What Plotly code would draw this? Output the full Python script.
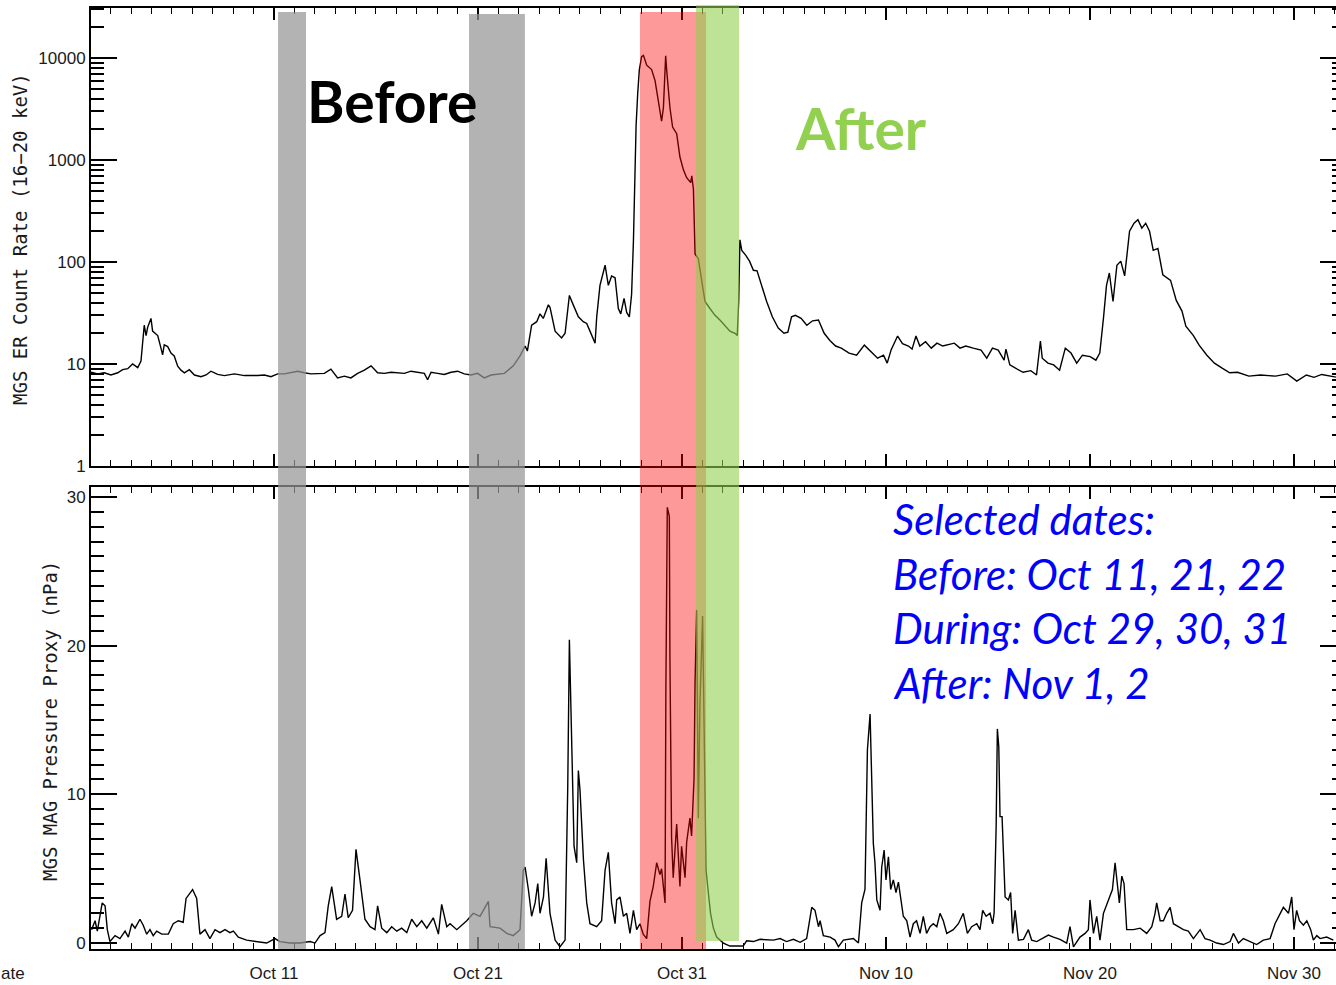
import pandas as pd
import plotly.graph_objects as go

# ---------------- data (time in "day of October 2003", e.g. 32.0 = Nov 1 00:00) ----------------
er_day = [2.03, 2.36, 2.68, 3.01, 3.34, 3.58, 3.83, 4.07, 4.32, 4.48, 4.64, 4.73, 4.81, 4.97, 5.05,
          5.30, 5.46, 5.54, 5.62, 5.79, 5.95, 6.11, 6.28, 6.44, 6.61, 6.85, 7.10, 7.42, 7.67, 7.91,
          8.24, 8.57, 9.06, 9.55, 10.2, 10.53, 10.85, 11.18, 11.51, 12.16, 12.49, 12.81, 13.47, 13.79,
          14.12, 14.45, 14.77, 15.1, 15.43, 15.76, 16.08, 16.41, 16.74, 17.39, 17.72, 18.04, 18.37,
          18.53, 18.7, 19.02, 19.35, 19.68, 20.0, 20.33, 20.66, 20.98, 21.31, 21.64, 21.96, 22.29,
          22.73, 23.06, 23.31, 23.42, 23.63, 23.88, 24.04, 24.2, 24.45, 24.53, 24.78, 25.1, 25.27,
          25.48, 25.67, 25.92, 26.16, 26.33, 26.49, 26.74, 26.82, 26.98, 27.23, 27.39, 27.55, 27.72,
          27.88, 28.0, 28.16, 28.29, 28.42, 28.53, 28.62, 28.68, 28.75, 28.83, 28.91, 29.02, 29.11,
          29.27, 29.51, 29.68, 29.84, 30.0, 30.09, 30.2, 30.25, 30.33, 30.41, 30.54, 30.74, 30.9,
          31.07, 31.23, 31.43, 31.48, 31.56, 31.64, 31.8, 31.97, 32.13, 32.37, 32.62, 32.86, 33.11,
          33.35, 33.6, 33.71, 33.78, 33.84, 33.93, 34.12, 34.31, 34.5, 34.68, 34.87, 35.15, 35.43,
          35.72, 36.0, 36.19, 36.37, 36.56, 36.84, 37.12, 37.4, 37.69, 37.97, 38.25, 38.53, 38.81,
          39.19, 39.56, 39.94, 40.22, 40.59, 40.88, 41.06, 41.25, 41.57, 41.81, 42.1, 42.28, 42.47,
          42.66, 42.94, 43.22, 43.5, 43.78, 44.07, 44.35, 44.63, 44.91, 45.28, 45.66, 45.94, 46.22,
          46.5, 46.79, 46.88, 47.07, 47.35, 47.72, 48.1, 48.38, 48.57, 48.66, 48.94, 49.22, 49.51,
          49.79, 50.07, 50.35, 50.63, 51.01, 51.29, 51.48, 51.66, 51.81, 51.95, 52.13, 52.32, 52.51,
          52.7, 52.94, 53.16, 53.35, 53.54, 53.73, 53.92, 54.1, 54.33, 54.57, 54.95, 55.23, 55.51,
          55.7, 56.07, 56.35, 56.73, 57.1, 57.48, 57.85, 58.23, 58.79, 59.36, 60.1, 60.67, 61.14,
          61.61, 61.98, 62.36, 62.92, 63.26]
er_rate = [8.3, 8.0, 8.2, 7.8, 8.2, 8.8, 9.0, 10.0, 9.2, 10.7, 24, 19, 23, 28, 21,
           19, 14.3, 12.3, 15.4, 14.8, 12.8, 12, 9.5, 8.7, 8.2, 8.8, 7.8, 7.5, 7.8, 8.5,
           7.9, 7.7, 8.0, 7.7, 7.7, 7.8, 7.5, 8.0, 8.0, 8.5, 8.2, 8.0, 8.1, 8.9,
           7.3, 7.6, 7.3, 8.1, 8.7, 9.6, 8.2, 8.1, 8.3, 8.1, 8.5, 8.3, 8.1,
           7.0, 8.3, 8.1, 7.9, 8.3, 8.5, 8.0, 7.8, 8.1, 7.3, 7.8, 8.0, 8.1,
           9.6, 12, 15, 13.4, 24, 26, 31, 28, 38, 36, 21, 18, 20,
           47, 38, 29, 26, 25, 21, 16, 29, 59, 93, 59, 73, 70,
           35, 31, 44, 32, 29, 48, 160, 630, 2150, 4500, 7700, 10300, 10600,
           8500, 7700, 6000, 3800, 2400, 3250, 10500, 7600, 5000, 3250, 2100, 1810, 1070,
           800, 670, 600, 700, 520, 120, 108, 65, 41, 35, 30, 27, 24,
           21, 20, 19, 41, 165, 130, 117, 102, 83, 82, 62, 41, 29,
           22.5, 20, 20.5, 29, 30, 28, 24, 26.5, 27, 20, 17, 15, 14.3,
           12.8, 12.2, 15.3, 13.5, 11.4, 12.2, 10.2, 13.7, 18.8, 15.8, 15, 14, 18.8,
           15, 16.5, 14.3, 16, 15, 15.5, 16, 14.3, 15, 14.3, 13.7, 11.4, 14.3,
           13.7, 10.9, 14, 9.8, 9.1, 8.3, 8.6, 7.8, 16.8, 11.4, 10.2, 9.8, 8.7,
           14.3, 12.8, 10.2, 12.2, 11.8, 10.9, 12.8, 28, 59, 78, 41, 93, 102,
           73, 200, 240, 260, 215, 240, 200, 130, 136, 75, 66, 42, 33,
           23.5, 19, 15.3, 12.2, 10.2, 9.1, 8.2, 8.3, 7.6, 7.8, 7.6, 8.0, 6.8,
           7.8, 7.4, 7.9, 7.6, 7.3]

mag_day = [2.06, 2.23, 2.34, 2.47, 2.58, 2.72, 2.83, 2.96, 3.21, 3.45, 3.7, 3.86, 4.03, 4.19, 4.43,
           4.59, 4.76, 4.92, 5.08, 5.25, 5.5, 5.82, 6.06, 6.31, 6.55, 6.69, 6.85, 7.01, 7.21, 7.37,
           7.62, 7.86, 8.11, 8.35, 8.6, 8.84, 9.01, 9.25, 9.66, 10.15, 10.64, 11.05, 11.29, 11.78,
           12.27, 12.77, 13.01, 13.26, 13.5, 13.66, 13.83, 14.07, 14.32, 14.48, 14.64, 14.85, 15.02,
           15.22, 15.46, 15.71, 15.95, 16.08, 16.28, 16.53, 16.77, 17.02, 17.26, 17.51, 17.75, 18.0,
           18.24, 18.49, 18.81, 19.06, 19.22, 19.47, 19.63, 19.96, 20.45, 20.77, 21.1, 21.51, 21.59,
           22.08, 22.41, 22.73, 23.06, 23.22, 23.31, 23.47, 23.63, 23.8, 23.93, 24.04, 24.21, 24.34,
           24.53, 24.78, 25.02, 25.27, 25.4, 25.48, 25.55, 25.61, 25.71, 25.84, 25.92, 26.0, 26.17,
           26.33, 26.49, 26.82, 27.06, 27.23, 27.39, 27.55, 27.72, 27.8, 27.96, 28.13, 28.29, 28.45,
           28.62, 28.78, 28.94, 29.1, 29.27, 29.43, 29.59, 29.76, 29.92, 30.0, 30.17, 30.21, 30.28,
           30.38, 30.41, 30.49, 30.57, 30.74, 30.9, 30.98, 31.15, 31.23, 31.39, 31.47, 31.59, 31.64,
           31.72, 31.8, 31.88, 32.01, 32.08, 32.18, 32.29, 32.4, 32.54, 32.7, 33.03, 33.35, 34.0,
           34.17, 34.5, 34.83, 35.48, 35.81, 36.13, 36.46, 36.79, 37.11, 37.36, 37.52, 37.69, 37.77,
           37.93, 38.26, 38.5, 38.67, 38.91, 39.4, 39.65, 39.81, 39.97, 40.09, 40.22, 40.3, 40.38,
           40.46, 40.55, 40.71, 40.79, 40.91, 41.0, 41.12, 41.23, 41.36, 41.49, 41.61, 41.72, 41.85,
           42.02, 42.18, 42.34, 42.5, 42.67, 42.83, 42.99, 43.16, 43.32, 43.49, 43.65, 43.81, 43.98,
           44.3, 44.55, 44.79, 44.99, 45.2, 45.45, 45.61, 45.74, 45.91, 46.1, 46.23, 46.3, 46.4,
           46.46, 46.53, 46.59, 46.69, 46.76, 46.84, 47.0, 47.11, 47.21, 47.33, 47.49, 47.74, 47.98,
           48.14, 48.39, 48.72, 48.96, 49.21, 49.53, 49.86, 50.02, 50.19, 50.51, 50.76, 50.92, 51.0,
           51.17, 51.33, 51.49, 51.66, 51.9, 52.1, 52.23, 52.34, 52.44, 52.56, 52.67, 52.8, 53.13,
           53.46, 53.78, 54.03, 54.19, 54.27, 54.44, 54.6, 54.76, 54.93, 55.09, 55.33, 55.58, 55.82,
           56.07, 56.4, 56.64, 56.89, 57.21, 57.54, 57.87, 58.03, 58.28, 58.52, 58.85, 59.17, 59.5,
           59.83, 60.07, 60.24, 60.48, 60.73, 60.89, 61.0, 61.13, 61.27, 61.46, 61.63, 61.82, 61.95,
           62.12, 62.28, 62.6, 62.93, 63.06]
mag_p = [0.9, 1.5, 0.8, 1.8, 2.7, 2.5, 0.9, 0.1, 0.5, 0.3, 0.8, 0.4, 1.3, 1.0, 1.6,
         1.2, 0.6, 0.9, 0.5, 0.8, 0.6, 0.6, 1.3, 1.5, 1.4, 3.0, 3.3, 3.6, 3.0, 0.6,
         0.9, 0.3, 0.9, 0.7, 0.9, 0.7, 0.8, 0.4, 0.2, 0.1, 0.0, 0.3, 0.1, 0.0,
         0.0, 0.1, 0.0, 0.5, 0.7, 2.5, 3.8, 1.6, 1.8, 3.3, 1.7, 2.2, 6.3,
         4.2, 1.6, 1.1, 0.9, 2.5, 1.0, 0.7, 1.1, 0.8, 1.0, 0.7, 1.6, 1.1,
         1.5, 1.0, 1.7, 0.6, 2.6, 1.1, 1.3, 0.9, 1.5, 2.0, 1.8, 2.8, 1.1,
         1.0, 0.65, 0.5, 0.9, 4.9, 5.1, 3.6, 1.8, 2.7, 4.0, 2.0, 3.1, 5.7,
         2.0, 0.2, -0.25, 0.2, 10.5, 20.4, 15.7, 11.2, 6.5, 5.4, 11.6, 10.3, 5.6,
         2.7, 1.3, 1.1, 1.5, 4.9, 6.1, 2.7, 1.3, 2.9, 3.1, 1.8, 2.0, 0.65,
         2.2, 0.9, 1.3, 0.6, 0.3, 2.8, 3.8, 5.4, 4.6, 5.0, 2.7, 17, 29.3,
         28.7, 19, 7.1, 4.4, 8.0, 3.8, 6.5, 4.4, 6.8, 8.4, 7.2, 11, 17.5,
         22.4, 8.4, 16.1, 22, 14.5, 4.9, 3.4, 2.0, 1.0, 0.4, 0.0, -0.2, -0.2,
         0.15, 0.1, 0.25, 0.2, 0.3, 0.1, 0.25, 0.05, 0.3, 2.4, 2.2, 1.1, 1.5,
         0.5, 0.4, 0.2, -0.25, 0.2, 0.3, 0.0, 2.7, 3.6, 13, 15.4, 10.5, 6.7,
         5.4, 2.9, 2.2, 5.1, 6.25, 4.25, 5.8, 3.6, 4.25, 3.4, 4.1, 2.9, 1.8,
         1.5, 0.4, 1.3, 1.5, 0.65, 1.8, 0.65, 1.1, 1.3, 1.1, 2.0, 1.5, 0.65,
         0.9, 1.3, 2.0, 0.65, 1.1, 1.3, 0.9, 2.2, 1.8, 2.0, 1.3, 2.0, 7.8,
         14.4, 13.2, 8.5, 8.5, 6.0, 3.1, 2.9, 3.4, 0.65, 2.2, 0.2, 0.25, 0.9,
         0.2, 0.1, 0.35, 0.54, 0.4, 0.25, 0.0, 1.1, -0.25, 0.4, 0.65, 0.9, 2.9,
         0.65, 1.8, 0.2, 2.0, 2.9, 3.6, 5.4, 4.0, 2.7, 4.5, 4.0, 0.9, 0.9,
         1.0, 0.65, 1.1, 2.0, 2.7, 1.5, 1.5, 2.0, 2.4, 1.3, 1.1, 0.9, 0.8,
         0.3, 0.9, 0.3, 0.2, 0.0, -0.1, 0.1, 0.65, 0.0, 0.3, 0.1, -0.1, 0.2,
         0.3, 1.3, 1.8, 2.4, 2.0, 3.1, 0.9, 2.2, 1.5, 1.2, 1.5, 0.9,
         0.2, 0.5, 0.3, 0.4, 0.2]

x_tick_days = [11, 21, 31, 41, 51, 61]
x_tick_labels = ["Oct 11", "Oct 21", "Oct 31", "Nov 10", "Nov 20", "Nov 30"]
er_tick_vals = [1, 10, 100, 1000, 10000]
er_tick_labels = ["1", "10", "100", "1000", "10000"]
mag_tick_vals = [0, 10, 20, 30]
mag_tick_labels = ["0", "10", "20", "30"]

band_names = ["before1", "before2", "during", "after"]
band_start = [11.2, 20.56, 28.94, 31.69]
band_end = [12.57, 23.3, 32.18, 33.8]

selected_lines = ["Selected dates:", "Before: Oct 11, 21, 22",
                  "During: Oct 29, 30, 31", "After: Nov 1, 2"]

# ---------------- helpers ----------------
BASE = pd.Timestamp("2003-10-01")


def to_dt(days):
    return [BASE + pd.Timedelta(days=d - 1) for d in days]


X_RANGE = to_dt([2.03, 63.06])
FIG_W, FIG_H = 1336, 985
ML, MR, MT, MB = 91, 0, 8, 36
PW, PH = FIG_W - ML - MR, FIG_H - MT - MB


def px_x(p):
    return (p - ML) / PW


def px_y(p):
    return (FIG_H - MB - p) / PH


TICK_FONT = dict(family="Liberation Sans", size=17, color="#1a1a1a")
TITLE_FONT = dict(family="DejaVu Sans Mono", size=19, color="#1a1a1a")

fig = go.Figure()
fig.add_trace(go.Scatter(x=to_dt(er_day), y=er_rate, mode="lines",
                         line=dict(color="black", width=1.4), xaxis="x", yaxis="y",
                         showlegend=False, hoverinfo="skip"))
fig.add_trace(go.Scatter(x=to_dt(mag_day), y=mag_p, mode="lines",
                         line=dict(color="black", width=1.4), xaxis="x2", yaxis="y2",
                         showlegend=False, hoverinfo="skip"))
# empty traces to activate right-hand tick axes
fig.add_trace(go.Scatter(x=[], y=[], xaxis="x", yaxis="y3", showlegend=False))
fig.add_trace(go.Scatter(x=[], y=[], xaxis="x2", yaxis="y4", showlegend=False))

log_minor = [m * 10 ** e for e in range(0, 5) for m in range(2, 10)]
lin_minor = [v for v in range(0, 31) if v % 10 != 0]

xcommon = dict(type="date", range=X_RANGE, showgrid=False, zeroline=False,
               showline=True, linecolor="black", linewidth=2, mirror="ticks",
               ticks="inside", ticklen=12, tickwidth=1.5, tickcolor="black",
               tickvals=to_dt(x_tick_days), ticktext=x_tick_labels,
               minor=dict(ticks="inside", ticklen=6, tickwidth=1.2, tickcolor="black",
                          dtick=86400000, tick0="2003-10-01", showgrid=False),
               tickfont=TICK_FONT)

fig.update_layout(
    width=FIG_W, height=FIG_H,
    margin=dict(l=ML, r=MR, t=MT, b=MB),
    paper_bgcolor="white", plot_bgcolor="white",
    xaxis=dict(**xcommon, anchor="y", showticklabels=False),
    xaxis2=dict(**xcommon, anchor="y2", showticklabels=True, ticklabelstandoff=8),
    yaxis=dict(type="log", range=[0, 4.49], domain=[px_y(466), 1.0], anchor="x",
               showgrid=False, zeroline=False, showline=True, linecolor="black", linewidth=2,
               ticks="inside", ticklen=26, tickwidth=2, tickcolor="black",
               tickvals=er_tick_vals, ticktext=er_tick_labels, tickfont=TICK_FONT,
               minor=dict(ticks="inside", ticklen=13, tickwidth=2, tickcolor="black",
                          tickvals=log_minor, showgrid=False)),
    yaxis2=dict(range=[-0.4, 30.67], domain=[0.0, px_y(487)], anchor="x2",
                showgrid=False, zeroline=False, showline=True, linecolor="black", linewidth=2,
                ticks="inside", ticklen=26, tickwidth=1.5, tickcolor="black",
                tickvals=mag_tick_vals, ticktext=mag_tick_labels, tickfont=TICK_FONT,
                minor=dict(ticks="inside", ticklen=13, tickwidth=2, tickcolor="black",
                           tickvals=lin_minor, showgrid=False)),
    yaxis3=dict(type="log", range=[0, 4.49], overlaying="y", side="right", anchor="x",
                showgrid=False, zeroline=False, showline=False, showticklabels=False,
                ticks="inside", ticklen=16, tickwidth=2, tickcolor="black",
                tickvals=er_tick_vals,
                minor=dict(ticks="inside", ticklen=4, tickwidth=2, tickcolor="black",
                           tickvals=log_minor, showgrid=False)),
    yaxis4=dict(range=[-0.4, 30.67], overlaying="y2", side="right", anchor="x2",
                showgrid=False, zeroline=False, showline=False, showticklabels=False,
                ticks="inside", ticklen=16, tickwidth=1.5, tickcolor="black",
                tickvals=mag_tick_vals,
                minor=dict(ticks="inside", ticklen=4, tickwidth=2, tickcolor="black",
                           tickvals=lin_minor, showgrid=False)),
)

# shaded selection bands
band_fill = {"before1": "rgba(150,150,150,0.72)", "before2": "rgba(150,150,150,0.72)",
             "during": "rgba(250,0,0,0.40)", "after": "rgba(146,208,80,0.60)"}
band_vert = {"before1": (12, 949), "before2": (14, 949), "during": (12, 949), "after": (5, 941)}
for name, s, e in zip(band_names, band_start, band_end):
    top, bot = band_vert[name]
    d0, d1 = to_dt([s, e])
    fig.add_shape(type="rect", xref="x", yref="paper", x0=d0, x1=d1,
                  y0=px_y(bot), y1=px_y(top), fillcolor=band_fill[name],
                  line=dict(width=0), layer="above")

ann = []
# axis titles
ann.append(dict(text="MGS ER Count Rate (16\u221220 keV)", xref="paper", yref="paper",
                x=px_x(20), y=px_y(239), textangle=-90, showarrow=False,
                xanchor="center", yanchor="middle", font=TITLE_FONT))
ann.append(dict(text="MGS MAG Pressure Proxy (nPa)", xref="paper", yref="paper",
                x=px_x(50), y=px_y(721), textangle=-90, showarrow=False,
                xanchor="center", yanchor="middle", font=TITLE_FONT))
# the x-axis title is cropped at the left edge in the reference; only "ate" is visible
ann.append(dict(text="ate", xref="paper", yref="paper", x=px_x(0), y=px_y(973),
                showarrow=False, xanchor="left", yanchor="middle", borderpad=0,
                font=TICK_FONT))
# big labels
ann.append(dict(text="Before", xref="paper", yref="paper", x=px_x(305), y=px_y(101),
                showarrow=False, xanchor="left", yanchor="middle",
                font=dict(family="Lato", size=57, color="black", weight="bold")))
ann.append(dict(text="After", xref="paper", yref="paper", x=px_x(793), y=px_y(128),
                showarrow=False, xanchor="left", yanchor="middle",
                font=dict(family="Lato", size=57, color="#92d050", weight="bold")))
for line, yc in zip(selected_lines, [519, 574, 628, 683]):
    ann.append(dict(text=line, xref="paper", yref="paper", x=px_x(891), y=px_y(yc),
                    showarrow=False, xanchor="left", yanchor="middle",
                    font=dict(family="Lato", size=42, color="#0000ff", style="italic")))
fig.update_layout(annotations=ann)

fig.write_html("out.html")
